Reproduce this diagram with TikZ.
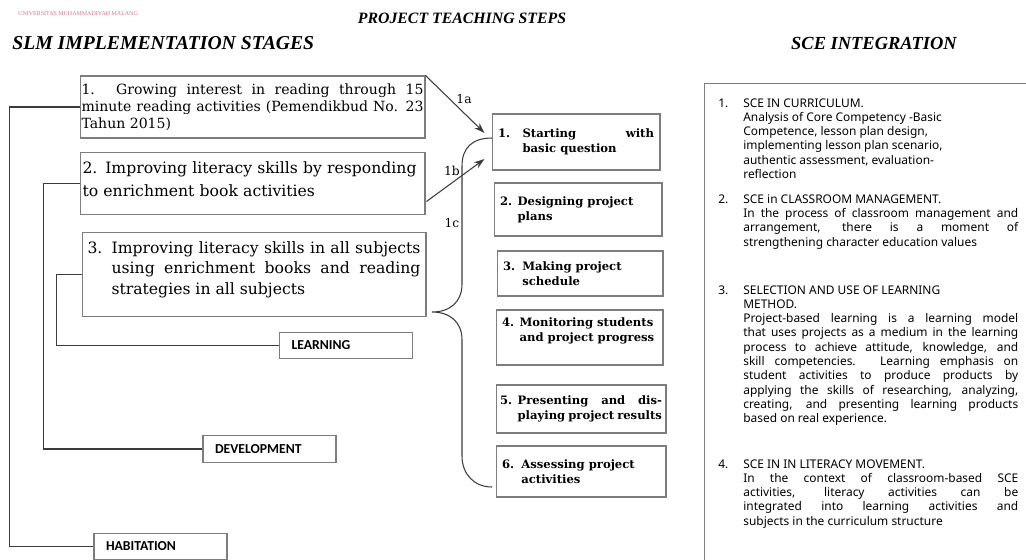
\documentclass[tikz,border=0pt]{standalone}
\usepackage{fontspec}
\setmainfont{DejaVu Serif}
\newfontfamily\titlefont{Liberation Serif}
\newfontfamily\catfont{Carlito}
\newfontfamily\scefont{Noto Sans}
\usetikzlibrary{arrows.meta, positioning, calc}
\definecolor{framegray}{RGB}{125,125,125}
\definecolor{linegray}{RGB}{60,60,60}
\definecolor{markred}{RGB}{215,120,130}
% number, number width, body width, body
\newcommand{\numpar}[4]{\makebox[#2][l]{#1}\parbox[t]{#3}{#4}}

\begin{document}
\begin{tikzpicture}[x=0.02cm, y=-0.02cm,
  stage/.style={draw=framegray, line width=0.6pt, align=justify, inner ysep=2pt},
  stepbox/.style={draw=framegray, line width=0.6pt, inner xsep=0.12cm, inner ysep=1pt, font=\fontsize{6.6}{8.5}\selectfont\bfseries},
  catbox/.style={draw=framegray, line width=0.6pt, minimum height=0.53cm, text width=2.18cm, inner xsep=0.24cm, align=left, font=\catfont\fontsize{7.8}{9}\selectfont\bfseries},
  link/.style={draw=linegray, line width=0.6pt},
  arr/.style={-{Stealth[length=6pt,width=4pt]}, line width=0.6pt},
  tag/.style={font=\fontsize{7}{8}\selectfont},
  head/.style={inner sep=0pt, font=\titlefont\fontsize{11.2}{12}\selectfont\bfseries\itshape},
  sce/.style={anchor=north west, inner sep=0pt, font=\scefont\fontsize{6.8}{8.15}\selectfont}
]
  \useasboundingbox (0,0) rectangle (1026,559);

  % headings
  \node[anchor=west, text=markred, font=\titlefont\fontsize{3.4}{4}\selectfont] (wmark) at (12,14) {UNIVERSITAS MUHAMMADIYAH MALANG};
  \node[head, font=\titlefont\fontsize{9}{10}\selectfont\bfseries\itshape] (tPTS) at (462,18) {PROJECT TEACHING STEPS};
  \node[head, anchor=west] (tSLM) at (12,43) {SLM IMPLEMENTATION STAGES};
  \node[head, font=\titlefont\fontsize{10.5}{12}\selectfont\bfseries\itshape] (tSCE) at (874,43) {SCE INTEGRATION};

  % SLM stages
  \node[stage, text width=6.84cm, inner xsep=0.03cm, minimum height=1.24cm, font=\fontsize{8}{9.7}\selectfont] (stA) at (252.5,107) {
    1. Growing interest in reading through 15\linebreak
    minute reading activities (Pemendikbud No. 23\linebreak
    Tahun 2015)};
  \node[stage, text width=6.8cm, inner xsep=0.05cm, inner ysep=5pt, minimum height=1.22cm, text depth=18pt, align=left, font=\fontsize{8.9}{13}\selectfont] (stB) at (252.5,183.5) {
    2. Improving literacy skills by responding\\
    to enrichment book activities};
  \node[stage, inner xsep=0.11cm, inner ysep=5pt, minimum height=1.66cm, text depth=31pt, font=\fontsize{8.9}{11.7}\selectfont] (stC) at (254,274.5) {
    \numpar{3.}{13.7pt}{\dimexpr6.66cm-13.7pt}{Improving literacy skills in all subjects\linebreak
    using enrichment books and reading\linebreak
    strategies in all subjects}};

  \node[catbox] (learn) at (346,345.5) {LEARNING};
  \node[catbox] (devel) at (269.5,449) {DEVELOPMENT};
  \node[catbox] (habit) at (160.5,546.5) {HABITATION};

  \draw[link] (stA.west) -- ++(-70,0) |- (habit.west);
  \draw[link] (stB.west) -- ++(-36,0) |- (devel.west);
  \draw[link] (stC.west) -- ++(-25,0) |- (learn.west);

  % project teaching steps
  \node[stepbox, minimum height=1.12cm] (sp1) at (576,142) {
    \numpar{1.}{14pt}{\dimexpr3.12cm-14pt}{Starting with\linebreak basic question}};
  \node[stepbox, minimum height=1.06cm] (sp2) at (578,209.5) {
    \numpar{2.}{10pt}{\dimexpr3.12cm-10pt}{Designing project\\ plans}};
  \node[stepbox, minimum height=0.9cm] (sp3) at (580,273.5) {
    \numpar{3.}{11pt}{\dimexpr3.08cm-11pt}{Making project\\ schedule}};
  \node[stepbox, minimum height=1.1cm, text depth=17pt] (sp4) at (579.5,337.5) {
    \numpar{4.}{10pt}{\dimexpr3.1cm-10pt}{Monitoring students\\ and project progress}};
  \node[stepbox, minimum height=0.96cm, inner xsep=0.08cm] (sp5) at (581,409) {
    \numpar{5.}{10pt}{\dimexpr3.24cm-10pt}{Presenting and dis-\linebreak playing project results}};
  \node[stepbox, minimum height=1.02cm] (sp6) at (581,471.5) {
    \numpar{6.}{11pt}{\dimexpr3.16cm-11pt}{Assessing project\\ activities}};

  \draw[arr, linegray] (stA.north east) -- ($(sp1.west)+(-7,-9)$);
  \draw[arr, linegray] ($(stB.east)+(1,18)$) -- ($(sp1.west)+(-7,17)$);
  \node[tag] (la) at (464,99) {1a};
  \node[tag] (lb) at (452,171) {1b};
  \node[tag] (lc) at (452,223) {1c};

  % brace
  \draw[link] (492,138) .. controls (472,138) and (462,148) .. (462,166) -- (462,284)
    .. controls (462,302) and (450,312) .. (432,312)
    .. controls (450,312) and (462,322) .. (462,340) -- (462,456)
    .. controls (462,474) and (474,487) .. (492,487);

  % SCE integration
  \begin{scope}
    \clip (0,0) rectangle (1026,559);
    \node[draw=framegray, line width=0.8pt, anchor=north west, minimum width=6.8cm, minimum height=10cm] (sceBox) at (704,83) {};
  \end{scope}
  \node[sce] (sceA) at (718,98) {\numpar{1.}{14.2pt}{5.5cm}{SCE IN CURRICULUM.\\
    Analysis of Core Competency -Basic\\
    Competence, lesson plan design,\\
    implementing lesson plan scenario,\\
    authentic assessment, evaluation-\\
    reflection}};
  \node[sce] (sceB) at (718,194) {\numpar{2.}{14.2pt}{5.5cm}{SCE in CLASSROOM MANAGEMENT.\\
    In the process of classroom management and\linebreak
    arrangement, there is a moment of\linebreak
    strengthening character education values}};
  \node[sce] (sceC) at (718,285) {\numpar{3.}{14.2pt}{5.5cm}{SELECTION AND USE OF LEARNING\\
    METHOD.\\
    Project-based learning is a learning model\linebreak
    that uses projects as a medium in the learning\linebreak
    process to achieve attitude, knowledge, and\linebreak
    skill competencies. Learning emphasis on\linebreak
    student activities to produce products by\linebreak
    applying the skills of researching, analyzing,\linebreak
    creating, and presenting learning products\linebreak
    based on real experience.}};
  \node[sce] (sceD) at (718,459) {\numpar{4.}{14.2pt}{5.5cm}{SCE IN IN LITERACY MOVEMENT.\\
    In the context of classroom-based SCE\linebreak
    activities, literacy activities can be\linebreak
    integrated into learning activities and\linebreak
    subjects in the curriculum structure}};
\end{tikzpicture}
\end{document}
